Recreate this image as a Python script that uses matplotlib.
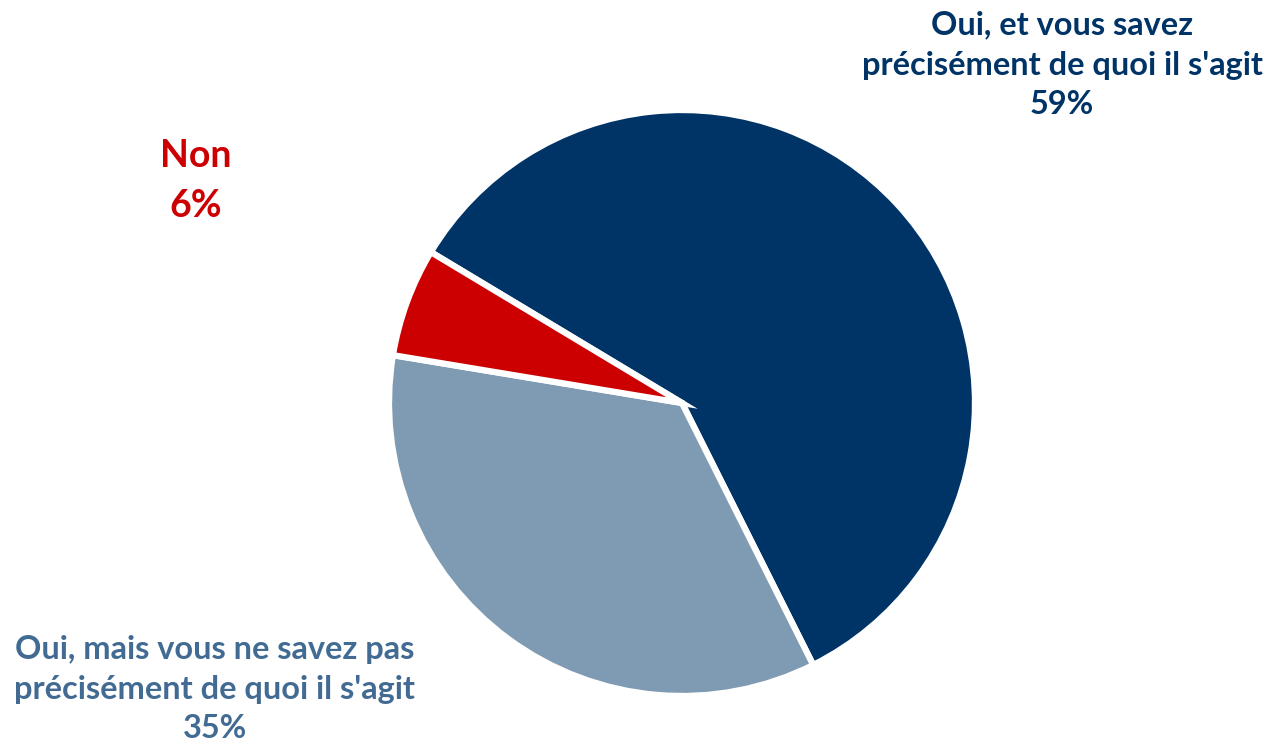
import matplotlib.pyplot as plt

labels = ["Oui, et vous savez\nprécisément de quoi il s'agit",
          "Oui, mais vous ne savez pas\nprécisément de quoi il s'agit",
          "Non"]
values = [59, 35, 6]
colors = ['#003366', '#7f9bb4', '#cc0000']
text_colors = ['#003366', '#426b93', '#cc0000']

fig = plt.figure(figsize=(12.72, 7.45), dpi=100)
ax = fig.add_axes([0, 0, 1, 1])

ax.pie(values, colors=colors, startangle=149, counterclock=False,
       center=(682, 342), radius=293, frame=True,
       wedgeprops=dict(edgecolor='white', linewidth=4.5))
ax.set_xlim(0, 1272)
ax.set_ylim(0, 745)
ax.set_aspect('equal')
ax.axis('off')

label_pos = [(1062, 65), (215, 689), (196, 181)]
sizes = [23.4, 23.4, 27]
spacing = [1.45, 1.45, 1.58]
for lab, v, c, (x, y), fs, ls in zip(labels, values, text_colors, label_pos, sizes, spacing):
    ax.text(x, 745 - y, f"{lab}\n{v}%", ha='center', va='center', color=c,
            fontsize=fs, fontweight='bold', family='Lato', linespacing=ls)

fig.savefig('out.png', dpi=100)
